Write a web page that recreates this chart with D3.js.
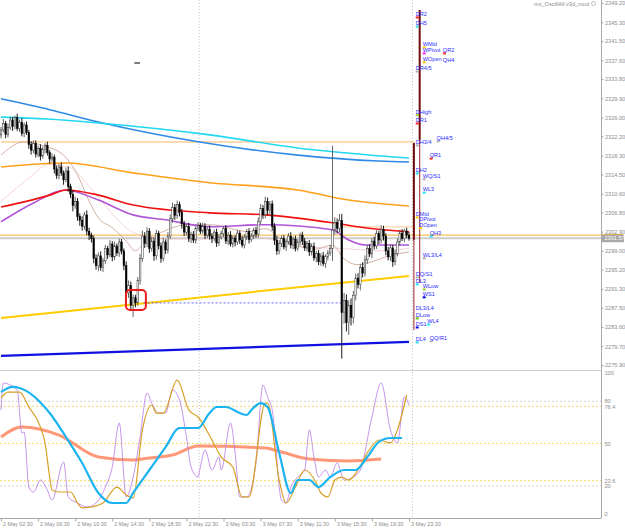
<!DOCTYPE html>
<html><head><meta charset="utf-8">
<script src="https://cdn.jsdelivr.net/npm/d3@7/dist/d3.min.js"></script>
<style>
body{margin:0;background:#fff}
svg{display:block}
text{font-family:"Liberation Sans",Arial,sans-serif}
</style>
</head><body>
<svg id="c" width="625" height="529"></svg>
<script>
// ---------------- DATA ----------------
const timeLabels = ["2 May 02:30","2 May 06:30","2 May 10:30","2 May 14:30","2 May 18:30","2 May 22:30","3 May 03:30","3 May 07:30","3 May 11:30","3 May 15:30","3 May 19:30","3 May 23:30"];
const timeLabelBars = [0,16,32,48,64,80,96,112,128,144,160,176];
const daySeparators = [85.5,177.5];

const priceTicks = [2349.20,2345.30,2341.50,2337.60,2333.80,2329.90,2326.00,2322.20,2318.30,2314.50,2310.60,2306.80,2302.90,2299.00,2295.20,2291.30,2287.50,2283.60,2279.70,2275.90];
const oscTicks = [100,80,76.4,50,23.6,20,0];

const firstOpen = 2322.5;
const closes = [
 2323.5,2324.8,2322.6,2324.0,2325.5,2324.2,2326.0,2323.8,2325.0,2322.8,2324.5,2323.0,
 2320.5,2319.4,2320.8,
 2318.6,2319.8,2318.2,2319.5,2320.4,2318.9,2317.6,
 2318.0,2315.6,2314.3,2316.0,2314.8,2313.4,2315.2,
 2312.0,2310.5,2308.2,2309.0,2306.0,2305.2,
 2304.0,2306.3,2303.0,2302.2,2301.5,
 2297.5,2296.0,2298.0,2295.6,2297.0,
 2299.5,2298.2,2300.4,2297.8,2300.0,2298.6,2300.8,2299.0,
 2296.0,2290.5,2292.0,2288.0,2289.5,2288.5,
 2293.0,2297.5,2302.0,2300.5,
 2303.0,2299.5,2301.0,2298.0,2302.5,2300.0,2297.5,2300.8,2299.2,2302.0,
 2305.5,2307.8,2306.2,2308.4,2306.8,2304.5,
 2302.8,2303.9,2301.5,2302.3,2301.2,2303.5,2304.2,
 2303.0,2304.0,2302.2,2303.4,2302.0,2301.5,2302.8,2300.6,2301.8,
 2302.5,2303.5,2301.0,2302.2,2300.4,2301.6,2300.8,2302.6,2301.2,2300.2,2301.8,2302.9,2301.3,2302.0,2303.2,2302.4,
 2305.0,2307.6,2306.3,2309.0,2307.2,2308.5,
 2304.0,2301.2,2299.0,2300.5,
 2301.5,2299.8,2300.9,2302.0,2300.2,2301.4,2299.5,2300.8,2302.2,2301.0,2299.6,2300.5,
 2298.8,2299.9,2297.6,2298.5,2296.8,2298.0,2296.5,2297.8,2298.6,2299.5,
 2303.2,
 2304.8,2303.6,2305.2,
 2286.5,
 2289.0,2284.5,2288.0,2285.5,2290.0,
 2293.5,2292.2,2295.6,2294.5,2297.2,
 2299.5,2298.4,2301.0,2300.0,2302.5,2301.2,2303.4,2302.0,
 2299.0,2297.8,2299.6,2296.8,2298.5,
 2300.8,2302.6,2301.5,2303.0,2302.2,2301.57
];
const upperWick = [
 0.6,0.9,0.5,0.8,0.7,0.6,0.4,0.8,0.6,0.9,0.5,0.7,
 0.5,0.7,0.6,
 0.6,0.5,0.8,0.6,0.4,0.7,0.5,
 0.8,0.5,0.7,0.6,0.9,0.5,0.7,
 0.9,0.6,0.8,1.0,0.7,0.6,
 0.8,0.6,0.9,0.7,0.5,
 0.6,0.8,0.7,0.9,0.6,
 0.7,0.5,0.8,0.6,0.9,0.5,0.7,0.6,
 0.5,0.9,1.0,0.8,0.7,0.6,
 0.7,0.9,1.1,0.8,
 0.8,0.6,0.9,0.7,0.8,0.6,0.7,0.9,0.5,0.8,
 0.9,1.0,0.7,0.8,0.6,0.7,
 0.6,0.5,0.8,0.6,0.7,0.5,0.6,
 0.5,0.7,0.6,0.5,0.8,0.6,0.5,0.7,0.6,
 0.6,0.5,0.7,0.6,0.8,0.5,0.6,0.7,0.5,0.8,0.6,0.5,0.7,0.6,0.5,0.7,
 0.8,0.9,0.7,1.0,0.8,0.6,
 0.7,0.6,0.8,0.7,
 0.6,0.7,0.5,0.6,0.8,0.5,0.7,0.6,0.5,0.7,0.6,0.5,
 0.7,0.6,0.8,0.5,0.7,0.6,0.8,0.5,0.6,0.7,
 17.1,
 1.0,0.8,1.3,
 1.3,
 1.5,1.2,1.0,1.4,0.9,
 0.9,1.0,0.8,1.1,0.9,
 0.7,0.8,0.6,0.9,0.7,0.6,0.8,0.7,
 0.6,0.8,0.7,0.6,0.8,
 0.7,0.6,0.8,0.5,0.7,0.6
];
const lowerWick = [
 0.7,0.5,0.8,0.6,0.5,0.9,0.6,0.5,0.7,0.6,0.8,0.5,
 0.8,0.9,0.6,
 0.7,0.6,0.9,0.5,0.8,0.6,0.9,
 0.6,0.9,0.7,0.8,0.6,1.0,0.5,
 1.0,0.8,1.2,0.7,0.9,1.1,
 0.9,0.7,0.8,1.0,0.8,
 1.0,0.8,1.1,0.6,0.9,
 0.6,0.8,0.5,0.9,0.7,0.6,0.8,0.7,
 0.9,2.0,1.0,1.2,2.4,0.9,
 0.6,0.8,0.7,0.9,
 0.7,0.9,0.6,1.0,0.8,0.7,0.9,0.6,0.8,0.7,
 0.6,0.8,0.9,0.7,0.8,1.0,
 0.8,0.6,0.7,0.9,0.6,0.7,0.5,
 0.6,0.5,0.8,0.6,0.7,0.9,0.5,0.8,0.6,
 0.5,0.7,0.6,0.8,0.5,0.7,0.9,0.6,0.8,0.5,0.7,0.6,0.8,0.5,0.6,0.7,
 0.7,0.6,0.8,0.7,0.9,0.8,
 0.9,1.0,0.8,0.7,
 0.7,0.5,0.8,0.6,0.7,0.9,0.6,0.5,0.7,0.8,0.6,0.7,
 0.8,0.7,0.6,0.9,0.7,0.8,0.6,0.9,0.7,0.6,
 2.5,
 0.9,1.1,0.8,
 9.3,
 2.2,1.8,2.5,1.6,1.2,
 1.0,0.8,1.2,0.9,0.7,
 0.8,0.6,0.9,0.7,0.6,0.8,0.7,0.9,
 0.9,0.7,0.8,1.0,0.7,
 0.6,0.8,0.5,0.7,0.6,0.5
];

// moving averages on the price chart: [bar, price]
const maBlue   = [[0,2329.8],[21,2327.6],[42,2325.1],[85,2321.1],[128,2318.4],[163,2317.2],[176,2317.0]];
const maCyan   = [[0,2326.1],[20,2325.7],[42,2324.9],[90,2322.5],[128,2319.85],[176,2317.8]];
const maOrange = [[0,2316.0],[28,2316.8],[57,2314.8],[90,2312.8],[128,2311.35],[150,2309.3],[176,2308.1]];
const maRed    = [[0,2307.9],[21,2310.3],[28,2311.35],[42,2310.3],[57,2308.3],[90,2306.7],[114,2306.3],[143,2304.7],[157,2303.7],[176,2302.85]];
const maPurple = [[0,2304.9],[14,2308.7],[28,2311.35],[42,2309.3],[57,2306.3],[71,2305.3],[90,2303.9],[114,2304.3],[143,2303.3],[150,2301.2],[157,2300.2],[176,2300.2]];
const maBrown  = [[0,2318.4],[10,2321.1],[18,2320.3],[27,2318.4],[33,2314.4],[38,2309.1],[42,2305.7],[48,2303.7],[54,2301.0],[58,2299.0],[61,2300.2],[67,2302.2],[74,2303.7],[80,2304.3],[90,2304.3],[107,2302.9],[114,2303.5],[121,2301.4],[136,2299.4],[143,2300.2],[148,2297.4],[154,2296.2],[160,2296.8],[166,2297.8],[176,2298.8]];
const maPink   = [[0,2309.0],[14,2314.5],[20,2316.5],[29,2316.0],[40,2311.0],[50,2305.5],[58,2302.5],[72,2301.4],[86,2301.4],[107,2302.0],[128,2300.0],[150,2299.4],[166,2299.0],[176,2299.6]];

const goldTrend = [[0,2285.44],[176,2293.94]];
const blueTrend = [[0,2277.74],[176,2280.58]];
const dottedLevel = [[61.5,2288.47],[148.3,2288.47]];
const thinOrangeLevel = [[0,2321.06],[178.5,2321.06]];
const paleOrangeLevel = [[146,2303.86],[178.5,2303.86]];
const orangeLevel = 2302.2;
const lastPrice = 2301.57;
const highlightBox = {bar0:53.9, bar1:62.5, hi:2291.1, lo:2287.05};
const smallDash = [[57.5,2337.05],[60,2337.05]];

// vertical session lines: bar, from price, to price, style
const vLines = [
 {bar:180.6, p0:2347.78, p1:2321.47, heavy:true},
 {bar:180.6, p0:2321.47, p1:2292.52, heavy:false},
 {bar:178.1, p0:2320.86, p1:2301.23, heavy:true},
 {bar:178.1, p0:2301.23, p1:2283.0, heavy:false}
];

// level labels: text, marker price, column, marker colour
const levelLabels = [
 ["DR2",2346.37,0,"#ff2020"],["DH5",2344.54,0,"#20e0f0"],
 ["WMid",2340.3,1,"#ffc800"],["WPivot",2339.1,1,"#ff20ff"],["QR2",2339.1,3.9,"#ff2020"],
 ["WOpen",2337.3,1,"#ffc800"],["QH4",2337.1,3.9,null],
 ["DR4/5",2335.43,0,"#b0b0b0"],
 ["DHigh",2326.6,0,"#a0d020"],["DR1",2324.91,0,"#ff2020"],
 ["QH4/5",2321.3,3,"#b0b0b0"],["DH3/4",2320.46,0,"#b0b0b0"],
 ["QR1",2317.8,2,"#ff2020"],
 ["DH2",2314.79,0,"#20e0f0"],["WQ/S1",2313.6,1,"#b0b0b0"],
 ["WL3",2310.9,1,"#20e0f0"],
 ["DMid",2305.88,0,"#ffc800"],["DPivot",2304.9,0.5,null],["DOpen",2303.7,0.5,"#ffc800"],
 ["QH3",2302.04,2,"#20e0f0"],
 ["WL3/L4",2297.6,1,"#b0b0b0"],
 ["DQ/S1",2293.74,0,"#b0b0b0"],["DL3",2292.32,0,"#20e0f0"],
 ["WLow",2291.3,1,"#a0d020"],["WS1",2289.7,1,"#0000e0"],
 ["DL3/L4",2286.85,0,null],["DLow",2285.44,0,"#60c000"],
 ["WL4",2284.2,1.65,"#20e0f0"],["DS1",2283.6,0,"#0000e0"],
 ["QQ/R1",2280.8,2,"#b0b0b0"],["DL4",2280.58,0,"#20e0f0"]
];

// oscillator panel: [bar, value]
const oscSalmon = [[0,54.6],[9,61.7],[25,56],[42,40.4],[57,38.3],[64,39.7],[74,41.8],[85,48.2],[114,46.8],[121,44],[133,39],[150,37.6],[164,39]];
const oscBlue = [[0,86.5],[5,90.1],[8,89.4],[21,71.6],[28,54.6],[35,36.2],[42,14.9],[48,7.8],[54,7.8],[57,14.9],[64,31.2],[71,47.5],[77,61],[85,61],[90,71.6],[93,75.9],[97,75.9],[103,71.6],[106,70.2],[108,73.8],[112,78.7],[115,75.9],[120,43.3],[125,14.9],[128,24.1],[133,24.1],[137,19.1],[142,26.2],[148,31.2],[153,31.2],[158,40.4],[163,51.1],[168,53.9],[173,53.9]];
const oscGold = [[0,82.3],[3,86.5],[8,86.5],[12,75.9],[17,61.7],[19,50.4],[21,26.2],[22,17],[25,15.6],[30,15.6],[33,7.8],[35,4.3],[39,5],[44,7.8],[50,19.1],[54,13.5],[57,11.3],[61,59.6],[65,77.3],[67,71.6],[70,71.6],[76,95],[81,73.8],[85,68.8],[91,52.5],[95,40.4],[100,33.3],[104,12.1],[107,12.1],[114,78.7],[115,78.7],[120,24.1],[123,7.8],[127,19.1],[131,31.2],[136,22],[138,14.9],[141,12.1],[144,24.1],[147,26.2],[150,24.1],[154,31.2],[158,43.3],[163,52.5],[168,50.4],[171,59.6],[175,84.4]];
const oscPurple = [[0,73.8],[1,92.9],[4,91.5],[7,87.9],[9,57.4],[10,58.2],[12,19.1],[14,15.6],[17,24.1],[20,17],[22,9.9],[27,36.9],[29,12.1],[33,7.8],[37,5],[41,7.8],[45,19.1],[48,33.3],[51,64.5],[54,12.1],[57,26.2],[60,54.6],[63,85.8],[65,78.7],[68,71.6],[71,71.6],[74,87.9],[77,80.9],[80,54.6],[82,33.3],[85,26.2],[86,33.3],[88,45.4],[91,31.2],[94,40.4],[95,31.2],[99,64.5],[101,43.3],[103,12.1],[106,12.1],[110,36.2],[113,91.5],[115,83],[117,73.8],[121,9.9],[123,7.8],[125,19.1],[128,26.2],[131,31.2],[133,59.6],[135,40.4],[137,26.2],[140,31.2],[142,26.2],[145,36.2],[148,24.1],[152,26.2],[155,31.2],[160,68.8],[164,92.9],[168,59.6],[171,50.4],[174,83],[176,77.3]];
const oscLevels = [[80,"grey"],[76.4,"fib"],[50,"fib"],[23.6,"fib"],[20,"grey"]];
const indicatorTitle = "mx_OscillAll v3d_mod";

// ---------------- DRAW ----------------
const svg = d3.select("#c");
const AX = 601, W = 625;
const x = d3.scaleLinear().domain([0,176]).range([1,409]);
const y = d3.scaleLinear().domain([2275.9,2349.2]).range([365,3]);
const yo = d3.scaleLinear().domain([0,100]).range([514,373]);
const axisGrey = "#a8a8a8", textGrey = "#8c8c8c";

const candles = closes.map((c,i) => {
  const o = i === 0 ? firstOpen : closes[i-1];
  return {i, o, c, h: Math.max(o,c)+upperWick[i], l: Math.min(o,c)-lowerWick[i]};
});

// day separators
svg.append("g").selectAll("line").data(daySeparators).join("line")
  .attr("x1", d=>x(d)).attr("x2", d=>x(d)).attr("y1",0).attr("y2",518)
  .attr("stroke","#c4c4c4").attr("stroke-width",1).attr("stroke-dasharray","1,2");

// panel separator & axes lines
svg.append("line").attr("x1",0).attr("x2",AX).attr("y1",370.5).attr("y2",370.5).attr("stroke","#cfcfcf");
svg.append("line").attr("x1",0).attr("x2",AX).attr("y1",518.5).attr("y2",518.5).attr("stroke",axisGrey);
svg.append("line").attr("x1",AX+0.5).attr("x2",AX+0.5).attr("y1",0).attr("y2",518.5).attr("stroke",axisGrey);

const line = d3.line().x(d=>x(d[0])).y(d=>y(d[1])).curve(d3.curveMonotoneX);
const oline = d3.line().x(d=>x(d[0])).y(d=>yo(d[1])).curve(d3.curveMonotoneX);
const straight = d3.line().x(d=>x(d[0])).y(d=>y(d[1]));

function path(data, gen, color, w, dash) {
  const p = svg.append("path").datum(data).attr("d", gen).attr("fill","none")
    .attr("stroke", color).attr("stroke-width", w).attr("stroke-linejoin","round");
  if (dash) p.attr("stroke-dasharray", dash);
  return p;
}

// horizontal levels
path(thinOrangeLevel, straight, "#f8b860", 1);
path(paleOrangeLevel, straight, "#fcc890", 1);
svg.append("line").attr("x1",0).attr("x2",AX).attr("y1",y(lastPrice)).attr("y2",y(lastPrice))
  .attr("stroke","#cccccc").attr("stroke-width",2);
svg.append("line").attr("x1",0).attr("x2",AX).attr("y1",y(orangeLevel)).attr("y2",y(orangeLevel))
  .attr("stroke","#f4b030").attr("stroke-width",1);

// MAs
path(maPink, line, "#f4c8cc", 0.8);
path(maBrown, line, "#c89c8c", 0.8);
path(maBlue, line, "#2e8ae6", 1.6);
path(maCyan, line, "#22d8f0", 1.6);
path(maOrange, line, "#ffa01a", 1.6);
path(maPurple, line, "#b054d8", 1.6);
path(maRed, line, "#f01010", 1.6);
path(goldTrend, straight, "#ffcc00", 2);
path(blueTrend, straight, "#1010e0", 2.2);
path(dottedLevel, straight, "#4040ff", 0.8, "2,2");
path(smallDash, straight, "#000", 1);

// candles
const cg = svg.append("g");
cg.selectAll("line").data(candles).join("line")
  .attr("x1", d=>x(d.i)).attr("x2", d=>x(d.i))
  .attr("y1", d=>y(d.h)).attr("y2", d=>y(d.l))
  .attr("stroke", d=> d.c >= d.o ? "#555" : "#000").attr("stroke-width",0.9);
cg.selectAll("rect").data(candles).join("rect")
  .attr("x", d=>x(d.i)-0.8).attr("width",1.6)
  .attr("y", d=>y(Math.max(d.o,d.c)))
  .attr("height", d=>Math.max(0.8, Math.abs(y(d.o)-y(d.c))))
  .attr("fill", d=> d.c >= d.o ? "#ffffff" : "#000")
  .attr("stroke", d=> d.c >= d.o ? "#333" : "#000").attr("stroke-width",0.5);

// highlight box
svg.append("rect")
  .attr("x", x(highlightBox.bar0)).attr("y", y(highlightBox.hi))
  .attr("width", x(highlightBox.bar1)-x(highlightBox.bar0))
  .attr("height", y(highlightBox.lo)-y(highlightBox.hi))
  .attr("rx",4).attr("fill","none").attr("stroke","#ee1c1c").attr("stroke-width",2);

// vertical session lines
svg.append("g").selectAll("line").data(vLines).join("line")
  .attr("x1", d=>x(d.bar)).attr("x2", d=>x(d.bar))
  .attr("y1", d=>y(d.p0)).attr("y2", d=>y(d.p1))
  .attr("stroke", d=> d.heavy ? "#6e0a0a" : "#a84848")
  .attr("stroke-width", d=> d.heavy ? 2 : 1.2);

// level labels
const colBar = c => 178.9 + c*3;
const lg = svg.append("g");
lg.selectAll("rect").data(levelLabels.filter(d=>d[3])).join("rect")
  .attr("x", d=>x(colBar(d[2]))).attr("y", d=>y(d[1])-0.5).attr("width",3).attr("height",2)
  .attr("fill", d=>d[3]);
lg.selectAll("text").data(levelLabels).join("text")
  .attr("x", d=>x(colBar(d[2]))).attr("y", d=>y(d[1])-0.8)
  .attr("font-size",5.6).attr("fill","#2a2aff").text(d=>d[0]);

// price axis
const pa = svg.append("g").attr("transform",`translate(${AX+0.5},0)`)
  .call(d3.axisRight(y).tickValues(priceTicks).tickFormat(d3.format(".2f")).tickSize(2).tickPadding(1.5));
pa.select(".domain").remove();
pa.selectAll("line").attr("stroke",axisGrey);
pa.selectAll("text").attr("fill",textGrey).attr("font-size",5.6).attr("font-family","Liberation Sans, Arial");

// orange level marker & last price box on axis
svg.append("rect").attr("x",AX+1).attr("y",y(orangeLevel)-1).attr("width",W-AX-3).attr("height",1.6).attr("fill","#f4b030");
svg.append("rect").attr("x",AX+1).attr("y",y(lastPrice)-3.5).attr("width",W-AX-2).attr("height",7.5).attr("fill","#a8a8a8");
svg.append("text").attr("x",AX+3.5).attr("y",y(lastPrice)+2.2).attr("font-size",5.6).attr("fill","#fff").text(d3.format(".2f")(lastPrice));

// oscillator levels
svg.append("g").selectAll("line").data(oscLevels).join("line")
  .attr("x1",0).attr("x2",AX).attr("y1",d=>yo(d[0])).attr("y2",d=>yo(d[0]))
  .attr("stroke", d=> d[1]==="fib" ? "#f2d650" : "#cccccc")
  .attr("stroke-width",0.9).attr("stroke-dasharray","2,2");

path(oscSalmon, oline, "#ff9878", 3);
path(oscPurple, oline, "#b878e6", 0.8);
path(oscGold, oline, "#d8a028", 1.2);
path(oscBlue, oline, "#1cb4f0", 2.2);

const oa = svg.append("g").attr("transform",`translate(${AX+0.5},0)`)
  .call(d3.axisRight(yo).tickValues(oscTicks).tickFormat(d=>String(d)).tickSize(0).tickPadding(3));
oa.select(".domain").remove();
oa.selectAll("text").attr("fill",textGrey).attr("font-size",5.6).attr("font-family","Liberation Sans, Arial");

// time axis
const ta = svg.append("g").attr("transform","translate(0,518.5)")
  .call(d3.axisBottom(x).tickValues(timeLabelBars).tickFormat((d,i)=>timeLabels[i]).tickSize(3));
ta.select(".domain").remove();
ta.selectAll("line").attr("stroke",axisGrey);
ta.selectAll("text").attr("fill",textGrey).attr("font-size",5.4).attr("text-anchor","start")
  .attr("x",1.5).attr("dy","0.2em").attr("font-family","Liberation Sans, Arial");

// indicator title
svg.append("text").attr("x",589).attr("y",5.5).attr("text-anchor","end").attr("font-size",5.6)
  .attr("fill","#8c8c8c").text(indicatorTitle);
svg.append("circle").attr("cx",593.5).attr("cy",3.5).attr("r",2).attr("fill","none").attr("stroke","#9a9a9a").attr("stroke-width",0.6);
</script>
</body></html>
